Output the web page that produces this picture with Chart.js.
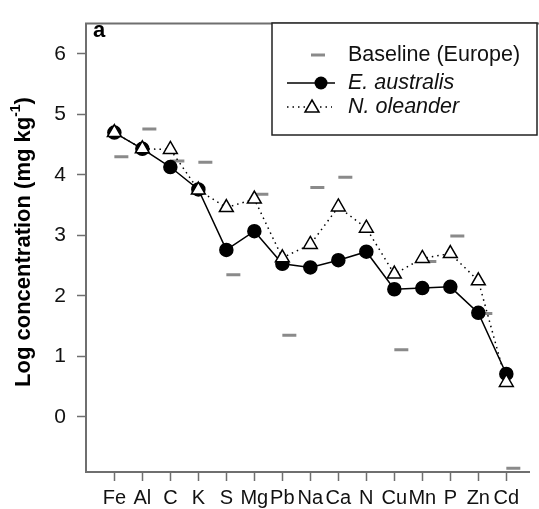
<!DOCTYPE html>
<html>
<head>
<meta charset="utf-8">
<script src="https://cdn.jsdelivr.net/npm/chart.js@4"></script>
<style>
  html, body { margin: 0; padding: 0; background: #fff; }
  #wrap { width: 539px; height: 509px; position: relative; }
</style>
</head>
<body>
<div id="wrap"><canvas id="chart" width="539" height="509"></canvas></div>
<script>
// --- Données ---
const elements = ['Fe', 'Al', 'C', 'K', 'S', 'Mg', 'Pb', 'Na', 'Ca', 'N', 'Cu', 'Mn', 'P', 'Zn', 'Cd'];
const eAustralis = [4.70, 4.43, 4.13, 3.76, 2.76, 3.07, 2.53, 2.47, 2.59, 2.73, 2.11, 2.13, 2.15, 1.72, 0.71];
const nOleander = [4.70, 4.43, 4.42, 3.75, 3.46, 3.60, 2.63, 2.85, 3.47, 3.12, 2.36, 2.62, 2.70, 2.25, 0.57];
const baselineEurope = [4.30, 4.76, 4.23, 4.21, 2.35, 3.68, 1.35, 3.79, 3.96, null, 1.11, 2.57, 2.99, 1.71, -0.85];
const baselineShift = 0.25;
const yTicks = [0, 1, 2, 3, 4, 5, 6];

const FONT = '"Liberation Sans", Arial, sans-serif';
const AXIS_GREY = '#6f6f6f';

const toPoints = (vals, shift) => vals.map((v, i) => ({ x: i + shift, y: v }));

// --- Éléments dessinés à la main : cadre du haut, "a", titre Y, légende ---
const extras = {
    id: 'extras',
    afterDraw(chart) {
        const ctx = chart.ctx;
        const area = chart.chartArea;
        ctx.save();

        // trait du haut
        ctx.strokeStyle = AXIS_GREY;
        ctx.lineWidth = 2;
        ctx.beginPath();
        ctx.moveTo(area.left - 1, area.top);
        ctx.lineTo(chart.width, area.top);
        ctx.stroke();

        // lettre du panneau
        ctx.fillStyle = '#000';
        ctx.font = 'bold 22px ' + FONT;
        ctx.textBaseline = 'alphabetic';
        ctx.textAlign = 'left';
        ctx.fillText('a', 93, 37);

        // titre de l'axe Y avec exposant
        ctx.save();
        ctx.translate(30, 242);
        ctx.rotate(-Math.PI / 2);
        const main = 'Log concentration (mg kg';
        const sup = '-1';
        const end = ')';
        ctx.font = 'bold 22px ' + FONT;
        const wMain = ctx.measureText(main).width;
        const wEnd = ctx.measureText(end).width;
        ctx.font = 'bold 14px ' + FONT;
        const wSup = ctx.measureText(sup).width;
        let x = -(wMain + wSup + wEnd) / 2;
        ctx.font = 'bold 22px ' + FONT;
        ctx.fillText(main, x, 0);
        x += wMain;
        ctx.font = 'bold 14px ' + FONT;
        ctx.fillText(sup, x, -10);
        x += wSup;
        ctx.font = 'bold 22px ' + FONT;
        ctx.fillText(end, x, 0);
        ctx.restore();

        // légende
        ctx.strokeStyle = '#222';
        ctx.lineWidth = 1.5;
        ctx.fillStyle = '#fff';
        ctx.fillRect(272, 23, 265, 112);
        ctx.strokeRect(272, 23, 265, 112);

        ctx.fillStyle = '#111';
        ctx.textBaseline = 'middle';
        ctx.font = '21.5px ' + FONT;
        ctx.fillText('Baseline (Europe)', 348, 55);
        ctx.font = 'italic 21.5px ' + FONT;
        ctx.fillText('E. australis', 348, 83);
        ctx.fillText('N. oleander', 348, 107);

        // symbole baseline
        ctx.strokeStyle = '#8a8a8a';
        ctx.lineWidth = 3;
        ctx.beginPath();
        ctx.moveTo(311, 55);
        ctx.lineTo(325, 55);
        ctx.stroke();

        // symbole E. australis
        ctx.strokeStyle = '#000';
        ctx.lineWidth = 1.5;
        ctx.beginPath();
        ctx.moveTo(287, 83);
        ctx.lineTo(335, 83);
        ctx.stroke();
        ctx.fillStyle = '#000';
        ctx.beginPath();
        ctx.arc(321, 83, 6.5, 0, Math.PI * 2);
        ctx.fill();

        // symbole N. oleander
        ctx.setLineDash([1.5, 4]);
        ctx.beginPath();
        ctx.moveTo(287, 107);
        ctx.lineTo(332, 107);
        ctx.stroke();
        ctx.setLineDash([]);
        ctx.fillStyle = '#fff';
        ctx.beginPath();
        ctx.moveTo(312, 100);
        ctx.lineTo(319, 112);
        ctx.lineTo(305, 112);
        ctx.closePath();
        ctx.fill();
        ctx.stroke();

        ctx.restore();
    }
};

const ctx = document.getElementById('chart').getContext('2d');
new Chart(ctx, {
    type: 'scatter',
    data: {
        datasets: [
            {
                label: 'N. oleander',
                data: toPoints(nOleander, 0),
                showLine: true,
                borderColor: '#000',
                borderWidth: 1.5,
                borderDash: [1.5, 4],
                pointStyle: 'triangle',
                pointRadius: 8,
                pointBackgroundColor: '#fff',
                pointBorderColor: '#000',
                pointBorderWidth: 1.5,
                order: 0
            },
            {
                label: 'E. australis',
                data: toPoints(eAustralis, 0),
                showLine: true,
                borderColor: '#000',
                borderWidth: 1.5,
                pointStyle: 'circle',
                pointRadius: 6.5,
                pointBackgroundColor: '#000',
                pointBorderColor: '#000',
                order: 1
            },
            {
                label: 'Baseline (Europe)',
                data: toPoints(baselineEurope, baselineShift),
                showLine: false,
                pointStyle: 'line',
                pointRadius: 7,
                pointBorderColor: '#8a8a8a',
                pointBorderWidth: 3,
                order: 2
            }
        ]
    },
    options: {
        responsive: false,
        animation: false,
        events: [],
        layout: { padding: { top: 14, right: 0, left: 0, bottom: 0 } },
        plugins: {
            legend: { display: false },
            tooltip: { enabled: false }
        },
        scales: {
            x: {
                type: 'linear',
                min: -1.013,
                max: 14.81,
                afterBuildTicks: scale => { scale.ticks = elements.map((e, i) => ({ value: i })); },
                afterFit: scale => { scale.height = 37; },
                grid: { drawOnChartArea: false, tickLength: 9, tickColor: AXIS_GREY, tickWidth: 1.5 },
                border: { color: AXIS_GREY, width: 2 },
                ticks: {
                    autoSkip: false,
                    maxRotation: 0,
                    padding: 5,
                    color: '#111',
                    font: { family: FONT, size: 20 },
                    callback: v => elements[v]
                }
            },
            y: {
                min: -0.91,
                max: 6.5,
                afterBuildTicks: scale => { scale.ticks = yTicks.map(v => ({ value: v })); },
                afterFit: scale => { scale.width = 86; },
                grid: { drawOnChartArea: false, tickLength: 9, tickColor: AXIS_GREY, tickWidth: 1.5 },
                border: { color: AXIS_GREY, width: 2 },
                ticks: {
                    padding: 11,
                    color: '#111',
                    font: { family: FONT, size: 21 },
                    callback: v => String(v)
                }
            }
        }
    },
    plugins: [extras]
});
</script>
</body>
</html>
